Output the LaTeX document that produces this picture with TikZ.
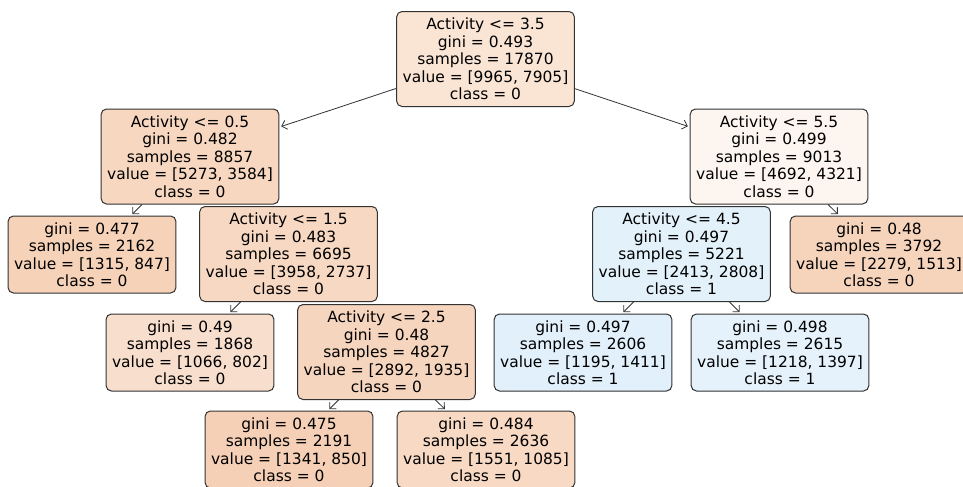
\documentclass[tikz,border=0pt]{standalone}
\usepackage{fontspec}
\setmainfont{DejaVu Sans}
\usetikzlibrary{arrows.meta}
\definecolor{zero}{RGB}{229, 129, 57}
\definecolor{one}{RGB}{57, 157, 229}
\definecolor{rim}{RGB}{50, 50, 50}

\tikzset{
  treebox/.style={draw=rim, line width=0.75pt, rounded corners=4pt, align=center,
    inner xsep=4.5pt, inner ysep=0pt, font=\fontsize{11.6}{13.1}\selectfont},
  splitbox/.style={treebox, minimum height=71.25pt},
  leafbox/.style={treebox, minimum height=57.75pt},
  link/.style={draw=rim, line width=0.6pt, -{Straight Barb[length=3.5pt, width=7pt]},
    shorten >=1.5pt}
}

\begin{document}
\begin{tikzpicture}[x=0.75pt, y=-0.75pt]

  \useasboundingbox (0, 0) rectangle (963, 486);

  % split nodes
  \node[splitbox, fill=zero!21!white] (act35) at (485.5, 59)
    {Activity <= 3.5\\gini = 0.493\\samples = 17870\\value = [9965, 7905]\\class = 0};
  \node[splitbox, fill=zero!32!white] (act05) at (190, 156.5)
    {Activity <= 0.5\\gini = 0.482\\samples = 8857\\value = [5273, 3584]\\class = 0};
  \node[splitbox, fill=zero!8!white] (act55) at (779, 156.5)
    {Activity <= 5.5\\gini = 0.499\\samples = 9013\\value = [4692, 4321]\\class = 0};
  \node[splitbox, fill=zero!31!white] (act15) at (288.5, 254)
    {Activity <= 1.5\\gini = 0.483\\samples = 6695\\value = [3958, 2737]\\class = 0};
  \node[splitbox, fill=one!14!white] (act45) at (681.5, 254)
    {Activity <= 4.5\\gini = 0.497\\samples = 5221\\value = [2413, 2808]\\class = 1};
  \node[splitbox, fill=zero!33!white] (act25) at (386.5, 352)
    {Activity <= 2.5\\gini = 0.48\\samples = 4827\\value = [2892, 1935]\\class = 0};

  % leaves
  \node[leafbox, fill=zero!36!white] (s2162) at (92, 254.5)
    {gini = 0.477\\samples = 2162\\value = [1315, 847]\\class = 0};
  \node[leafbox, fill=zero!34!white] (s3792) at (879, 254.5)
    {gini = 0.48\\samples = 3792\\value = [2279, 1513]\\class = 0};
  \node[leafbox, fill=zero!25!white] (s1868) at (190, 352.5)
    {gini = 0.49\\samples = 1868\\value = [1066, 802]\\class = 0};
  \node[leafbox, fill=one!15!white] (s2606) at (583, 352.5)
    {gini = 0.497\\samples = 2606\\value = [1195, 1411]\\class = 1};
  \node[leafbox, fill=one!13!white] (s2615) at (780, 352.5)
    {gini = 0.498\\samples = 2615\\value = [1218, 1397]\\class = 1};
  \node[leafbox, fill=zero!37!white] (s2191) at (289, 449.5)
    {gini = 0.475\\samples = 2191\\value = [1341, 850]\\class = 0};
  \node[leafbox, fill=zero!30!white] (s2636) at (486, 449.5)
    {gini = 0.484\\samples = 2636\\value = [1551, 1085]\\class = 0};

  \draw[link] (act35) -- (act05);
  \draw[link] (act35) -- (act55);
  \draw[link] (act05) -- (s2162);
  \draw[link] (act55) -- (s3792);
  \draw[link] (act15) -- (s1868);
  \draw[link] (act45) -- (s2606);
  \draw[link] (act45) -- (s2615);
  \draw[link] (act25) -- (s2191);
  \draw[link] (act25) -- (s2636);

\end{tikzpicture}
\end{document}
